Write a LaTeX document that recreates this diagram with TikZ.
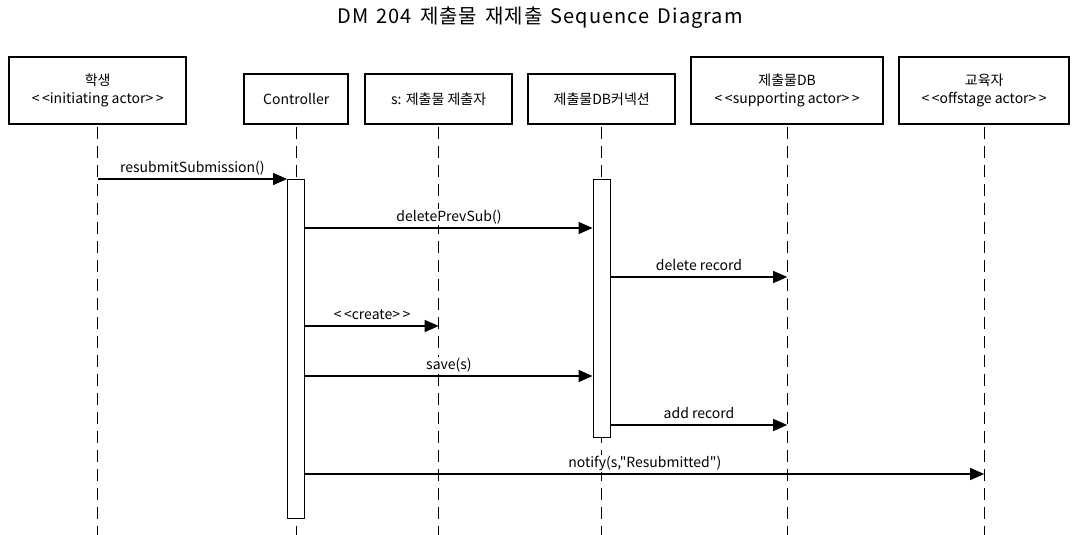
\documentclass[tikz,border=0pt]{standalone}
\usepackage{fontspec}
\setmainfont{Noto Sans CJK KR}[Ligatures=TeXOff]
\newfontfamily\titlefont{Noto Sans CJK KR}[Ligatures=TeXOff, LetterSpace=5, WordSpace=1.5]
\usetikzlibrary{arrows.meta}
\newcommand\stL{<\kern2.5pt<}
\newcommand\stR{>\kern2.5pt>}
\begin{document}
\begin{tikzpicture}[x=1pt,y=-1pt,
  head/.style={draw, line width=2.4pt, fill=white, inner sep=0pt, align=center,
    font=\fontsize{14}{18}\selectfont, anchor=north west},
  life/.style={line width=1pt, dash pattern=on 12pt off 7pt},
  act/.style={draw, line width=1.3pt, fill=white, minimum width=17pt, inner sep=0pt, anchor=north},
  msg/.style={line width=1.3pt, -{Triangle[length=14pt,width=12pt]}},
  lbl/.style={font=\fontsize{14}{16}\selectfont, fill=white, inner sep=1pt, anchor=base, yshift=6.5pt}]
\useasboundingbox (0,0) rectangle (1079,535);
\coordinate (bot) at (0,535);
\node[font=\titlefont\fontsize{20}{24}\selectfont] (title) at (540,18) {DM 204 제출물 재제출 Sequence Diagram};
% lifeline heads
\node[head, minimum width=177pt, minimum height=67pt] (stu) at (8,56) {학생\\\stL initiating actor\stR};
\node[head, minimum width=104pt, minimum height=50pt] (ctrl) at (243,73) {Controller};
\node[head, minimum width=147pt, minimum height=50pt] (sobj) at (364,73) {s: 제출물 제출자};
\node[head, minimum width=147pt, minimum height=50pt] (conn) at (527,73) {제출물DB커넥션};
\node[head, minimum width=192pt, minimum height=67pt] (db) at (690,56) {제출물DB\\\stL supporting actor\stR};
\node[head, minimum width=170pt, minimum height=67pt] (edu) at (898,56) {교육자\\\stL offstage actor\stR};
% lifelines
\foreach \n in {stu,ctrl,sobj,conn,db,edu}{
  \draw[life] ([yshift=-1.2pt]\n.south) -- (\n.south |- bot);
}
% activations
\node[act, minimum height=339pt] (ctrlA) at (ctrl.south |- 0,179) {};
\node[act, minimum height=258pt] (connA) at (conn.south |- 0,179) {};
% messages
\draw[msg] (stu.south |- 0,179) -- (ctrlA.north west) node[lbl, midway] {resubmitSubmission()};
\draw[msg] (ctrlA.east |- 0,228) -- (connA.west |- 0,228) node[lbl, midway] {deletePrevSub()};
\draw[msg] (connA.east |- 0,277) -- (db.south |- 0,277) node[lbl, midway] {delete record};
\draw[msg] (ctrlA.east |- 0,326) -- (sobj.south |- 0,326) node[lbl, midway] {\stL create\stR};
\draw[msg] (ctrlA.east |- 0,376) -- (connA.west |- 0,376) node[lbl, midway] {save(s)};
\draw[msg] (connA.east |- 0,425) -- (db.south |- 0,425) node[lbl, midway] {add record};
\draw[msg] (ctrlA.east |- 0,474) -- (edu.south |- 0,474) node[lbl, midway] {notify(s,"Resubmitted")};
\end{tikzpicture}
\end{document}
